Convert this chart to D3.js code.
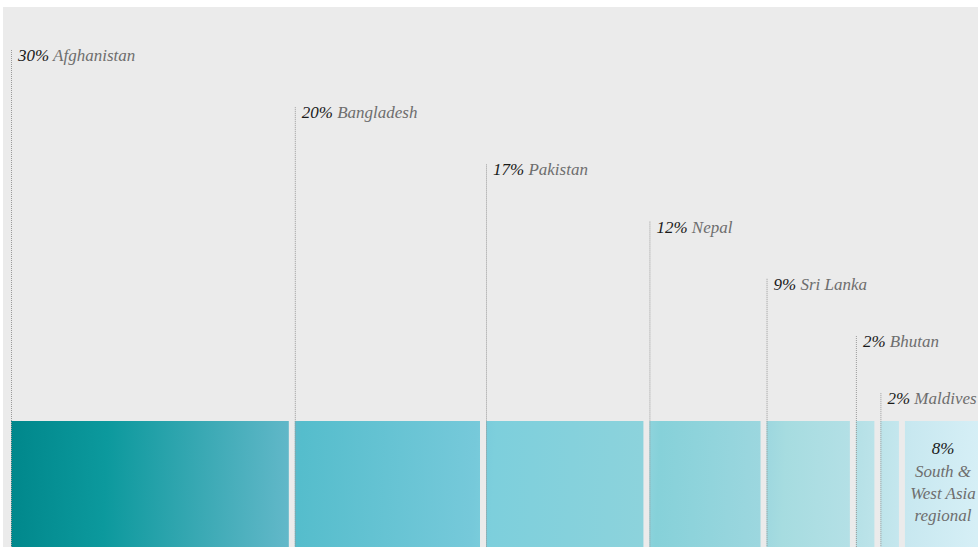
<!DOCTYPE html>
<html>
<head>
<meta charset="utf-8">
<script src="https://cdn.jsdelivr.net/npm/d3@7/dist/d3.min.js"></script>
<style>
  html, body { margin: 0; padding: 0; background: #ffffff; }
  svg { display: block; }
  text { font-family: "Liberation Serif", "DejaVu Serif", serif; font-style: italic; }
</style>
</head>
<body>
<svg id="chart" width="979" height="547"></svg>
<script>
// Share of aid by recipient, South & West Asia
const recipients = ["Afghanistan", "Bangladesh", "Pakistan", "Nepal", "Sri Lanka", "Bhutan", "Maldives", "South & West Asia regional"];
const shares = [30, 20, 17, 12, 9, 2, 2, 8];
const regionalLines = ["South &", "West Asia", "regional"];

// Colour ramp across the whole bar (offset, colour)
const rampOffsets = [0, 0.1, 0.2, 0.29, 0.3, 0.48, 0.5, 0.66, 0.67, 0.78, 0.8, 0.87, 0.9, 0.93, 1];
const rampColours = ["#00878b", "#0c999d", "#3aa9b4", "#62b8c9", "#55bdcc", "#76c9da", "#7dcfdc", "#8dd3dc",
                     "#86d1d9", "#9dd7df", "#a6dce0", "#b4e0e6", "#bee4ea", "#c8e8f0", "#d6eff6"];

const W = 979, H = 547;
const panel = { x: 3, y: 7, w: 975, h: 540 };
const barLeft = 11, barRight = 979, barTop = 421, gap = 6;
const firstBaseline = 61, step = 57.2;

const svg = d3.select("#chart");

svg.append("rect")
  .attr("x", panel.x).attr("y", panel.y)
  .attr("width", panel.w).attr("height", panel.h)
  .attr("fill", "#ebebeb");

const defs = svg.append("defs");
const grad = defs.append("linearGradient")
  .attr("id", "barRamp")
  .attr("gradientUnits", "userSpaceOnUse")
  .attr("x1", barLeft).attr("y1", barTop)
  .attr("x2", barRight).attr("y2", barTop + 40);
grad.selectAll("stop")
  .data(rampOffsets)
  .join("stop")
  .attr("offset", d => d)
  .attr("stop-color", (d, i) => rampColours[i]);

defs.append("clipPath").attr("id", "panelClip")
  .append("rect")
  .attr("x", panel.x).attr("y", panel.y)
  .attr("width", panel.w).attr("height", panel.h);

const total = d3.sum(shares);
const x = d3.scaleLinear()
  .domain([0, total])
  .range([barLeft, barRight - gap * (shares.length - 1)]);

const cumulative = d3.cumsum([0, ...shares]);
const segs = shares.map((v, i) => ({
  name: recipients[i],
  value: v,
  i,
  x0: x(cumulative[i]) + i * gap,
  x1: x(cumulative[i + 1]) + i * gap
}));

const g = svg.append("g").attr("clip-path", "url(#panelClip)");

// bar segments
g.selectAll("rect.seg")
  .data(segs)
  .join("rect")
  .attr("class", "seg")
  .attr("x", d => d.x0)
  .attr("y", barTop)
  .attr("width", d => d.x1 - d.x0)
  .attr("height", H - barTop)
  .attr("fill", "url(#barRamp)");

// staggered labels with dotted leader lines
const labelled = segs.slice(0, shares.length - 1);
const baseline = d => firstBaseline + d.i * step;

g.selectAll("line.leader")
  .data(labelled)
  .join("line")
  .attr("class", "leader")
  .attr("x1", d => d.x0 + 0.5).attr("x2", d => d.x0 + 0.5)
  .attr("y1", d => baseline(d) - 11)
  .attr("y2", H)
  .attr("stroke", "#9a9a9a")
  .attr("stroke-width", 1)
  .attr("stroke-dasharray", "1,1");

const labels = g.selectAll("text.label")
  .data(labelled)
  .join("text")
  .attr("class", "label")
  .attr("x", d => d.x0 + 7)
  .attr("y", d => baseline(d))
  .attr("font-size", 17);
labels.append("tspan")
  .attr("fill", "#1a1a1a")
  .text(d => d.value + "%");
labels.append("tspan")
  .attr("fill", "#6e6e6e")
  .text(d => " " + d.name);

// regional segment carries its label inside the bar
const reg = segs[segs.length - 1];
const cx = 943;
g.append("text")
  .attr("x", cx).attr("y", 454)
  .attr("text-anchor", "middle")
  .attr("font-size", 17)
  .attr("fill", "#1a1a1a")
  .text(reg.value + "%");
g.selectAll("text.reg")
  .data(regionalLines)
  .join("text")
  .attr("class", "reg")
  .attr("x", cx)
  .attr("y", (d, i) => 477 + i * 22)
  .attr("text-anchor", "middle")
  .attr("font-size", 17)
  .attr("fill", "#6e6e6e")
  .text(d => d);
</script>
</body>
</html>
